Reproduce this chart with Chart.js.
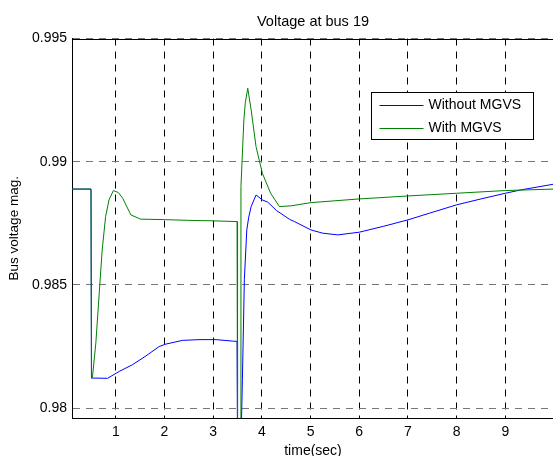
<!DOCTYPE html>
<html>
<head>
<meta charset="utf-8">
<script src="https://cdn.jsdelivr.net/npm/chart.js@4.4.1/dist/chart.umd.min.js"></script>
<style>
  body { margin: 0; background: #fff; overflow: hidden; }
</style>
</head>
<body>
<canvas id="chart" width="556" height="456"></canvas>
<script>
// Values (time in sec, bus voltage in pu)
var seriesLabels = ["Without MGVS", "With MGVS"];

var timeWithout = [0.1, 0.49, 0.50, 0.59, 0.83, 1.07, 1.34, 1.62, 1.89, 2.03, 2.37, 2.71, 3.06, 3.40, 3.49,
    3.50, 3.57, 3.60, 3.64, 3.69, 3.73, 3.78, 3.88, 4.01, 4.12, 4.30, 4.57, 4.67, 5.01, 5.25, 5.56,
    6.0, 6.5, 7.0, 7.44, 8.0, 8.5, 9.0, 9.33, 10];
var voltageWithout = [0.98889, 0.98889, 0.98122, 0.98122, 0.98121, 0.98149, 0.98176, 0.98212, 0.98250, 0.98260, 0.98275, 0.98278, 0.98278, 0.98272, 0.98271,
    0.9785, 0.9785, 0.98115, 0.98521, 0.98723, 0.98775, 0.98818, 0.98865, 0.98845, 0.98836, 0.98802, 0.98766, 0.98757, 0.98723, 0.98710, 0.98703,
    0.98714, 0.98738, 0.98764, 0.98791, 0.98825, 0.98849, 0.98872, 0.98886, 0.98909];

var timeWith = [0.1, 0.49, 0.50, 0.52, 0.59, 0.66, 0.72, 0.79, 0.86, 0.95, 1.05, 1.14, 1.31, 1.51, 2.0, 2.5, 3.0, 3.49,
    3.50, 3.565, 3.57, 3.63, 3.66, 3.71, 3.78, 3.88, 4.01, 4.18, 4.36, 4.60, 5.01, 6.0, 7.0, 8.0, 9.0, 10];
var voltageWith = [0.98889, 0.98889, 0.98122, 0.98125, 0.98265, 0.98468, 0.98642, 0.98777, 0.98845, 0.98883, 0.98875, 0.98852, 0.98784, 0.98767, 0.98765, 0.98762, 0.98760, 0.98757,
    0.9785, 0.9785, 0.98899, 0.99170, 0.99240, 0.99298, 0.99210, 0.99061, 0.98953, 0.98872, 0.98818, 0.98821, 0.98834, 0.98849, 0.98861, 0.98872, 0.98883, 0.98889];

var xTicks = [1, 2, 3, 4, 5, 6, 7, 8, 9];
var yTicks = [0.98, 0.985, 0.99, 0.995];

function toPoints(xs, ys) {
    var pts = [];
    for (var i = 0; i < xs.length; i++)
        pts.push({x: xs[i], y: ys[i]});
    return pts;
}

Chart.defaults.font.family = "'Liberation Sans', Arial, sans-serif";
Chart.defaults.color = "#000";

// top edge of the box (matlab draws a full frame)
var frameTop = {
    id: "frameTop",
    afterDatasetsDraw: function(chart) {
        var ctx = chart.ctx, a = chart.chartArea;
        ctx.save();
        ctx.strokeStyle = "#000";
        ctx.lineWidth = 1;
        ctx.beginPath();
        ctx.moveTo(a.left, Math.round(a.top) + 0.5);
        ctx.lineTo(a.right, Math.round(a.top) + 0.5);
        ctx.stroke();
        ctx.restore();
    }
};

// legend box inside the plot, top right
var insideLegend = {
    id: "insideLegend",
    afterDatasetsDraw: function(chart) {
        var ctx = chart.ctx, a = chart.chartArea;
        var left = Math.round(a.right - 183) + 0.5;
        var top = Math.round(a.top + 53) + 0.5;
        ctx.save();
        ctx.fillStyle = "#fff";
        ctx.fillRect(left, top, 162, 47);
        ctx.strokeStyle = "#000";
        ctx.lineWidth = 1;
        ctx.strokeRect(left, top, 162, 47);
        ctx.font = "14px 'Liberation Sans', Arial, sans-serif";
        ctx.textBaseline = "middle";
        ctx.textAlign = "left";
        chart.data.datasets.forEach(function(ds, i) {
            var y = Math.round(top + 12.5 + i * 22.5) + 0.5;
            ctx.strokeStyle = ds.borderColor;
            ctx.beginPath();
            ctx.moveTo(left + 8, y);
            ctx.lineTo(left + 52, y);
            ctx.stroke();
            ctx.fillStyle = "#000";
            ctx.fillText(ds.label, left + 57, y);
        });
        ctx.restore();
    }
};

var ctx = document.getElementById("chart").getContext("2d");
var chart = new Chart(ctx, {
    type: "line",
    data: {
        datasets: [{
            label: seriesLabels[0],
            data: toPoints(timeWithout, voltageWithout),
            borderColor: "#0000ff",
            borderWidth: 1,
            pointRadius: 0,
            tension: 0,
            order: 1
        }, {
            label: seriesLabels[1],
            data: toPoints(timeWith, voltageWith),
            borderColor: "#008000",
            borderWidth: 1,
            pointRadius: 0,
            tension: 0,
            order: 0
        }]
    },
    options: {
        responsive: false,
        animation: false,
        devicePixelRatio: 1,
        layout: { padding: { left: 0, right: 2, top: 0, bottom: 0 } },
        plugins: {
            legend: { display: false },
            tooltip: { enabled: false },
            title: {
                display: true,
                text: "Voltage at bus 19",
                fullSize: false,
                color: "#000",
                font: { size: 14.5, weight: "normal", lineHeight: "17px" },
                padding: { top: 13, bottom: 8.5 }
            }
        },
        scales: {
            x: {
                type: "linear",
                min: 0.1,
                max: 10,
                afterBuildTicks: function(scale) {
                    scale.ticks = xTicks.map(function(v) { return {value: v}; });
                },
                afterFit: function(scale) { scale.height = 38; },
                ticks: { font: { size: 14 }, padding: 5.5, color: "#000", maxRotation: 0 },
                grid: { color: "#000", lineWidth: 1, drawTicks: false },
                border: { display: true, color: "#000", width: 1, dash: [7, 6] },
                title: {
                    display: true,
                    text: "time(sec)",
                    color: "#000",
                    font: { size: 14, lineHeight: 0.7 },
                    padding: 0
                }
            },
            y: {
                min: 0.9796,
                max: 0.995,
                afterBuildTicks: function(scale) {
                    scale.ticks = yTicks.map(function(v) { return {value: v}; });
                },
                afterFit: function(scale) { scale.width = 72; },
                ticks: {
                    font: { size: 14 },
                    padding: 5,
                    color: "#000",
                    callback: function(v) { return String(+v.toFixed(3)); }
                },
                grid: { color: "#777", lineWidth: 1, drawTicks: false },
                border: { display: true, color: "#000", width: 1, dash: [7, 6] },
                title: {
                    display: true,
                    text: "Bus voltage mag.",
                    color: "#000",
                    font: { size: 13.5 },
                    padding: { top: 6.5, bottom: 0 }
                }
            }
        }
    },
    plugins: [frameTop, insideLegend]
});
</script>
</body>
</html>
